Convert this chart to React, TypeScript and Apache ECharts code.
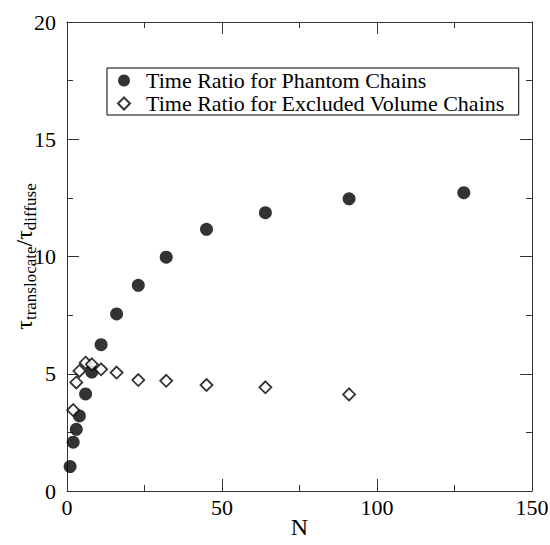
import React, { useEffect, useRef } from "react";
import * as echarts from "echarts";

const phantomN = [1, 2, 3, 4, 6, 8, 11, 16, 23, 32, 45, 64, 91, 128];
const phantomRatio = [1.04, 2.08, 2.63, 3.2, 4.14, 5.07, 6.24, 7.55, 8.77, 9.97, 11.16, 11.87, 12.46, 12.72];
const excludedN = [2, 3, 4, 6, 8, 11, 16, 23, 32, 45, 64, 91];
const excludedRatio = [3.45, 4.63, 5.12, 5.47, 5.4, 5.19, 5.05, 4.73, 4.7, 4.52, 4.42, 4.12];
const seriesNames = ["Time Ratio for Phantom Chains", "Time Ratio for Excluded Volume Chains"];
const xTitle = "N";

const FONT = "serif";
const AXIS_COLOR = "#333";

export default function App() {
  const ref = useRef<HTMLDivElement>(null);
  useEffect(() => {
    if (!ref.current) return;
    const chart = echarts.init(ref.current, null, { renderer: "svg" });
    const axisCommon = {
      axisLine: { show: true, onZero: false, lineStyle: { color: AXIS_COLOR, width: 1 } },
      axisTick: { show: true, inside: true, length: 12, lineStyle: { color: AXIS_COLOR, width: 1 } },
      minorTick: { show: true, splitNumber: 2, length: 6, lineStyle: { color: AXIS_COLOR, width: 1 } },
      splitLine: { show: false },
      minorSplitLine: { show: false },
    };
    chart.setOption({
      animation: false,
      backgroundColor: "#fff",
      textStyle: { fontFamily: FONT },
      grid: { left: 67, right: 18, top: 22, bottom: 54, outerBoundsMode: "none", containLabel: false },
      legend: {
        orient: "vertical",
        left: 107,
        top: 68,
        padding: [1, 14, 0, 10],
        itemGap: 0,
        itemWidth: 12,
        itemHeight: 12,
        borderColor: "#000",
        borderWidth: 1,
        backgroundColor: "#fff",
        textStyle: { fontFamily: FONT, fontSize: 22, color: "#000", lineHeight: 23, padding: [0, 0, 0, 11] },
        data: seriesNames,
      },
      xAxis: [
        {
          type: "value",
          min: 0,
          max: 150,
          interval: 50,
          position: "bottom",
          name: xTitle,
          nameLocation: "middle",
          nameGap: 24,
          nameMoveOverlap: false,
          nameTextStyle: { fontFamily: FONT, fontSize: 24, color: "#000" },
          axisLabel: { fontFamily: FONT, fontSize: 22, color: "#000", margin: 5 },
          ...axisCommon,
        },
        {
          type: "value",
          min: 0,
          max: 150,
          interval: 50,
          position: "top",
          axisLabel: { show: false },
          ...axisCommon,
        },
      ],
      yAxis: [
        {
          type: "value",
          min: 0,
          max: 20,
          interval: 5,
          position: "left",
          name: "{t|τ}{s|translocate}{t|/τ}{s|diffuse}",
          nameLocation: "middle",
          nameRotate: 90,
          nameGap: 28,
          nameMoveOverlap: false,
          nameTextStyle: {
            fontFamily: FONT,
            color: "#000",
            rich: {
              t: { fontFamily: FONT, fontSize: 24, lineHeight: 30, color: "#000", verticalAlign: "middle" },
              s: { fontFamily: FONT, fontSize: 17, lineHeight: 17, color: "#000", verticalAlign: "bottom" },
            },
          },
          axisLabel: { fontFamily: FONT, fontSize: 22, color: "#000", margin: 11 },
          ...axisCommon,
        },
        {
          type: "value",
          min: 0,
          max: 20,
          interval: 5,
          position: "right",
          axisLabel: { show: false },
          ...axisCommon,
        },
      ],
      series: [
        {
          name: seriesNames[0],
          type: "scatter",
          symbol: "circle",
          symbolSize: 13,
          itemStyle: { color: "#000" },
          data: phantomN.map((n, i) => [n, phantomRatio[i]]),
        },
        {
          name: seriesNames[1],
          type: "scatter",
          symbol: "diamond",
          symbolSize: 12,
          itemStyle: { color: "#fff", borderColor: "#000", borderWidth: 1.8 },
          data: excludedN.map((n, i) => [n, excludedRatio[i]]),
        },
      ],
    });
    return () => chart.dispose();
  }, []);
  return (
    <div
      ref={ref}
      style={{ position: "absolute", left: 0, top: 0, width: 550, height: 545 }}
    />
  );
}
